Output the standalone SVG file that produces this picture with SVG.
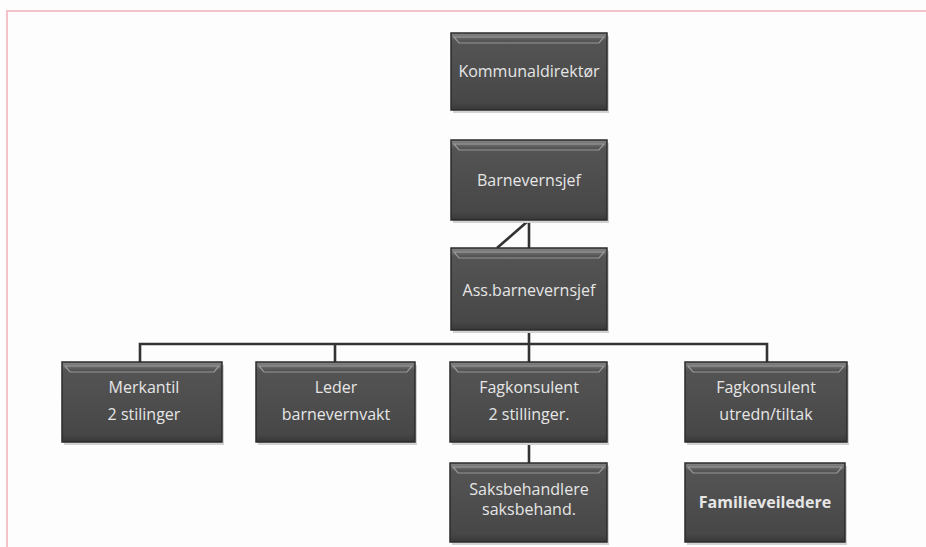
<svg xmlns="http://www.w3.org/2000/svg" width="926" height="547" viewBox="0 0 926 547">
<style>
.box{fill:url(#g);stroke:#2b2b2b;stroke-width:1.5}
.shadow{fill:#d2d2d2}
.hl{fill:none;stroke:#a8a8a8;stroke-width:1.2;opacity:.8}
.t{font-family:"Open Sans","Liberation Sans",sans-serif;font-size:16px;fill:#e6e6e6;text-anchor:middle}
.b{font-weight:bold}
.c{stroke:#333;stroke-width:2.6;fill:none}
.frame{stroke:#f4c2c8;stroke-width:2;fill:none}
</style>
<defs>
<linearGradient id="g" x1="0" y1="0" x2="0" y2="1">
<stop offset="0" stop-color="#888"/>
<stop offset="0.1" stop-color="#545454"/>
<stop offset="0.9" stop-color="#474747"/>
<stop offset="1" stop-color="#383838"/>
</linearGradient>
</defs>
<rect width="926" height="547" fill="#fdfdfd"/>
<path class="frame" d="M7 547 V11 H926"/>
<g id="connectors">
<path class="c" d="M529 220 V248 M528 221 L497 248"/>
<path class="c" d="M529 330 V344 M140 362 V344 H767 V362 M335 344 V362 M529 344 V362"/>
<path class="c" d="M529 442 V463"/>
</g>
<g id="n1"><rect class="shadow" x="453" y="36" width="156" height="77"/><rect class="box" x="451" y="33" width="156" height="77"/><path class="hl" d="M454 37 H604 L599 43 H459 Z"/><text class="t" x="529" y="77">Kommunaldirektør</text></g>
<g id="n2"><rect class="shadow" x="453" y="143" width="156" height="80"/><rect class="box" x="451" y="140" width="156" height="80"/><path class="hl" d="M454 144 H604 L599 150 H459 Z"/><text class="t" x="529" y="186">Barnevernsjef</text></g>
<g id="n3"><rect class="shadow" x="453" y="251" width="156" height="82"/><rect class="box" x="451" y="248" width="156" height="82"/><path class="hl" d="M454 252 H604 L599 258 H459 Z"/><text class="t" x="529" y="296">Ass.barnevernsjef</text></g>
<g id="n4"><rect class="shadow" x="64" y="365" width="160" height="80"/><rect class="box" x="62" y="362" width="160" height="80"/><path class="hl" d="M65 366 H219 L214 372 H70 Z"/><text class="t" x="144" y="393">Merkantil</text><text class="t" x="144" y="420">2 stilinger</text></g>
<g id="n5"><rect class="shadow" x="258" y="365" width="159" height="80"/><rect class="box" x="256" y="362" width="159" height="80"/><path class="hl" d="M259 366 H412 L407 372 H264 Z"/><text class="t" x="336" y="393">Leder</text><text class="t" x="336" y="420">barnevernvakt</text></g>
<g id="n6"><rect class="shadow" x="452" y="365" width="157" height="80"/><rect class="box" x="450" y="362" width="157" height="80"/><path class="hl" d="M453 366 H604 L599 372 H458 Z"/><text class="t" x="529" y="393">Fagkonsulent</text><text class="t" x="529" y="420">2 stillinger.</text></g>
<g id="n7"><rect class="shadow" x="687" y="365" width="162" height="80"/><rect class="box" x="685" y="362" width="162" height="80"/><path class="hl" d="M688 366 H844 L839 372 H693 Z"/><text class="t" x="766" y="393">Fagkonsulent</text><text class="t" x="766" y="420">utredn/tiltak</text></g>
<g id="n8"><rect class="shadow" x="452" y="466" width="157" height="79"/><rect class="box" x="450" y="463" width="157" height="79"/><path class="hl" d="M453 467 H604 L599 473 H458 Z"/><text class="t" x="529" y="495">Saksbehandlere</text><text class="t" x="529" y="515">saksbehand.</text></g>
<g id="n9"><rect class="shadow" x="687" y="466" width="160" height="79"/><rect class="box" x="685" y="463" width="160" height="79"/><path class="hl" d="M688 467 H842 L837 473 H693 Z"/><text class="t b" x="765" y="508">Familieveiledere</text></g>
</svg>
